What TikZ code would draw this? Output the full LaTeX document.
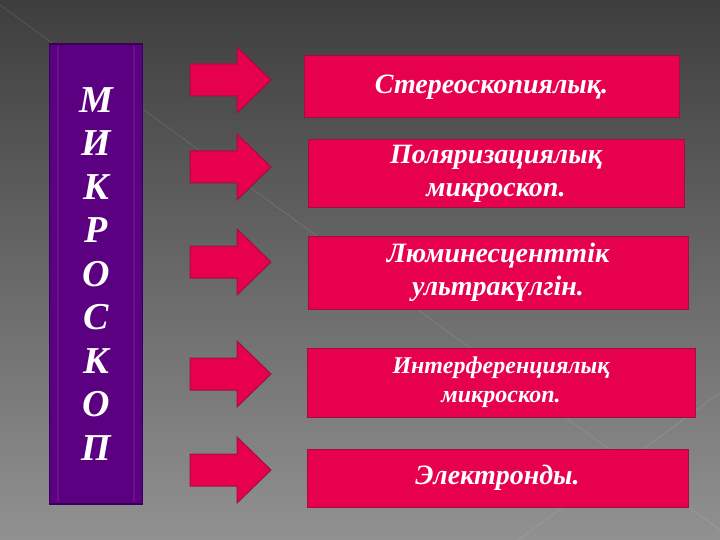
\documentclass[tikz,border=0pt]{standalone}
\usepackage{fontspec}
\setmainfont{Liberation Serif}
\usepackage{tikz}

\definecolor{bgtop}{HTML}{3E3E3E}
\definecolor{bgbot}{HTML}{919191}
\definecolor{crimson}{HTML}{E6004E}
\definecolor{crimsonedge}{HTML}{A0103F}
\definecolor{plum}{HTML}{5A0080}
\definecolor{plumedge}{HTML}{3A0058}
\definecolor{plumlight}{HTML}{6A1090}

\tikzset{
    itembox/.style={draw=crimsonedge, line width=1pt, fill=crimson, text=white, align=center, inner sep=0pt,
        font=\fontsize{28}{33}\selectfont\bfseries\itshape},
    arrowshape/.style={draw=crimsonedge, line width=1pt, fill=crimson},
    letterbox/.style={draw=plumedge, line width=1.2pt, fill=plum, text=white, align=center,
        font=\fontsize{38}{43.5}\selectfont\bfseries\itshape}
}

\begin{document}
\begin{tikzpicture}[x=1pt,y=-1pt]
    % background
    \shade[top color=bgtop, bottom color=bgbot] (0,0) rectangle (720,540);
    \useasboundingbox (0,0) rectangle (720,540);
    \draw[white, opacity=0.18] (0,5) -- (720,530);
    \draw[white, opacity=0.18] (518,540) -- (720,393);

    % left box
    \node[letterbox, minimum width=93, minimum height=460] (mikro) at (96,274) {М\\И\\К\\Р\\О\\С\\К\\О\\П};
    \foreach \x in {58,134}
    \draw[plumlight, line width=1.5pt] (\x,46) -- (\x,502);

    % arrows
    \foreach \y in {80,167,262,374,470}
    \draw[arrowshape] (190,\y-16) -- (237,\y-16) -- (237,\y-33) -- (271,\y)
        -- (237,\y+33) -- (237,\y+16) -- (190,\y+16) -- cycle;

    % right boxes
    \node[itembox, minimum width=375, minimum height=62] (stereo) at (491.5,87) {Стереоскопиялық.};
    \node[itembox, minimum width=376, minimum height=68] (polar) at (496,174) {Поляризациялық\\микроскоп.};
    \node[itembox, minimum width=380, minimum height=73] (lumin) at (498,272.5) {Люминесценттік\\ультракүлгін.};
    \node[itembox, minimum width=388, minimum height=69, font=\fontsize{24}{29}\selectfont\bfseries\itshape] (interf) at (501,382.5) {Интерференциялық\\микроскоп.};
    \node[itembox, minimum width=381, minimum height=58] (elektr) at (497.5,478) {Электронды.};
\end{tikzpicture}
\end{document}
